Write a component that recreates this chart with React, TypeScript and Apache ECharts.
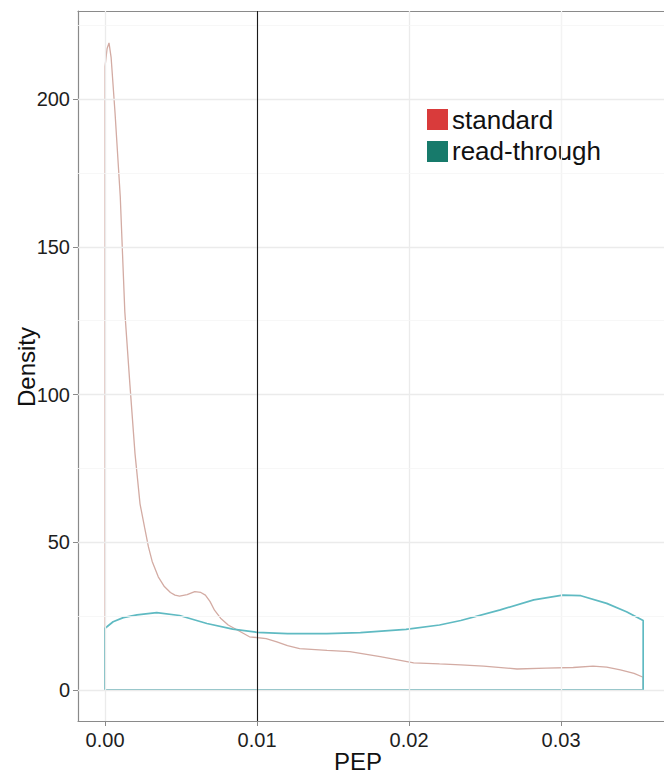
import React, { useEffect, useRef } from "react";
import * as echarts from "echarts";

const xTicks = [0, 0.01, 0.02, 0.03];
const xMinor = [0.005, 0.015, 0.025, 0.035];
const yTicks = [0, 50, 100, 150, 200];
const yMinor = [25, 75, 125, 175, 225];
const cutoff = 0.01;

const standardDensity: [number, number][] = [
  [0, 0], [0, 211], [0.00013, 217], [0.00026, 219], [0.0004, 214], [0.00066, 195],
  [0.001, 167], [0.0013, 128], [0.00164, 103], [0.00197, 80], [0.0023, 63],
  [0.0026, 55], [0.00285, 48.5], [0.0031, 43.5], [0.0035, 38.3], [0.0039, 35],
  [0.0043, 33], [0.0046, 32.1], [0.0049, 31.8],
  [0.0054, 32.3], [0.0059, 33.3], [0.0063, 33], [0.0066, 32.1], [0.0069, 30],
  [0.0072, 27], [0.0076, 24.3], [0.0081, 22], [0.0087, 20.3], [0.0095, 18], [0.0106, 17.4],
  [0.0113, 16.3], [0.012, 15], [0.0128, 14], [0.0146, 13.4], [0.0161, 13], [0.0181, 11.3],
  [0.0203, 9.2], [0.022, 8.8], [0.0234, 8.5], [0.0249, 8.1], [0.0271, 7.1],
  [0.029, 7.4], [0.0308, 7.6], [0.0321, 8.1], [0.033, 7.7], [0.0339, 6.8], [0.0348, 5.6], [0.0354, 4.3],
  [0.0354, 0], [0, 0],
];

const readThroughDensity: [number, number][] = [
  [0, 0], [0, 20.9], [0.00053, 23.1], [0.0012, 24.5], [0.0021, 25.4], [0.0034, 26.2],
  [0.0049, 25.2], [0.0067, 22.5], [0.0084, 20.6], [0.01, 19.5], [0.012, 19.1],
  [0.0146, 19.1], [0.0168, 19.4], [0.0198, 20.5], [0.022, 22], [0.0234, 23.5],
  [0.026, 27.1], [0.0282, 30.5], [0.0301, 32.1], [0.0313, 31.9], [0.033, 29.3],
  [0.0343, 26.5], [0.0354, 23.5], [0.0354, 0], [0, 0],
];

const legendNames = ["standard", "read-through"];

const FONT = "'Liberation Sans', Arial, sans-serif";

export default function App() {
  const ref = useRef<HTMLDivElement>(null);
  useEffect(() => {
    if (!ref.current) return;
    const chart = echarts.init(ref.current, null, { renderer: "svg" });
    const xMin = -0.00178;
    const xMax = 0.03677;
    const yMin = -10.5;
    const yMax = 229.8;
    const axisGray = "#8a8a8a";
    const gridLines = [
      ...xTicks.map((v) => ({ xAxis: v, lineStyle: { color: "#ebebeb", width: 1.3, type: "solid" } })),
      ...xMinor.map((v) => ({ xAxis: v, lineStyle: { color: "#f5f5f5", width: 0.8, type: "solid" } })),
      ...yTicks.map((v) => ({ yAxis: v, lineStyle: { color: "#ebebeb", width: 1.3, type: "solid" } })),
      ...yMinor.map((v) => ({ yAxis: v, lineStyle: { color: "#f5f5f5", width: 0.8, type: "solid" } })),
    ];
    chart.setOption({
      animation: false,
      backgroundColor: "#ffffff",
      grid: { left: 78, right: 0, top: 11, bottom: 54 },
      xAxis: [
        {
          type: "value",
          min: xMin,
          max: xMax,
          position: "bottom",
          axisLine: { show: true, onZero: false, lineStyle: { color: axisGray, width: 1.2 } },
          axisTick: { show: true, customValues: xTicks, length: 5, lineStyle: { color: axisGray, width: 1 } },
          axisLabel: {
            customValues: xTicks,
            formatter: (v: number) => v.toFixed(2),
            fontSize: 20,
            fontFamily: FONT,
            color: "#1e1e1e",
            margin: 9,
          },
          splitLine: { show: false },
        },
        {
          type: "value",
          min: xMin,
          max: xMax,
          position: "top",
          axisLine: { show: true, onZero: false, lineStyle: { color: axisGray, width: 1.2 } },
          axisTick: { show: false },
          axisLabel: { show: false },
          splitLine: { show: false },
        },
      ],
      yAxis: {
        type: "value",
        min: yMin,
        max: yMax,
        axisLine: { show: true, onZero: false, lineStyle: { color: axisGray, width: 1.2 } },
        axisTick: { show: true, customValues: yTicks, length: 5, lineStyle: { color: axisGray, width: 1 } },
        axisLabel: {
          customValues: yTicks,
          fontSize: 20,
          fontFamily: FONT,
          color: "#1e1e1e",
          margin: 8,
        },
        splitLine: { show: false },
      },
      series: [
        {
          name: "grid",
          type: "line",
          data: [],
          silent: true,
          z: 1,
          markLine: {
            silent: true,
            symbol: "none",
            label: { show: false },
            animation: false,
            data: gridLines,
          },
        },
        {
          name: legendNames[0],
          type: "line",
          data: standardDensity,
          showSymbol: false,
          symbol: "none",
          z: 3,
          lineStyle: { color: "#d3aba3", width: 1.3 },
        },
        {
          name: legendNames[1],
          type: "line",
          data: readThroughDensity,
          showSymbol: false,
          symbol: "none",
          z: 4,
          lineStyle: { color: "#5fbac2", width: 1.7 },
          markLine: {
            silent: true,
            symbol: "none",
            label: { show: false },
            animation: false,
            data: [{ xAxis: cutoff, lineStyle: { color: "#1a1a1a", width: 1.1, type: "solid" } }],
          },
        },
      ],
      graphic: [
        { type: "rect", shape: { x: 427, y: 109, width: 21, height: 21 }, style: { fill: "#d93b3b" } },
        {
          type: "text",
          x: 452,
          y: 120,
          style: { text: legendNames[0], font: `26px ${FONT}`, fill: "#111", verticalAlign: "middle", align: "left" },
        },
        { type: "rect", shape: { x: 427, y: 141, width: 21, height: 21 }, style: { fill: "#177a6b" } },
        {
          type: "text",
          x: 452,
          y: 151,
          style: { text: legendNames[1], font: `26px ${FONT}`, fill: "#111", verticalAlign: "middle", align: "left" },
        },
        {
          type: "text",
          x: 358,
          y: 761,
          style: { text: "PEP", font: `24px ${FONT}`, fill: "#111", verticalAlign: "middle", align: "center" },
        },
        {
          type: "text",
          x: 26,
          y: 367,
          rotation: Math.PI / 2,
          style: { text: "Density", font: `24px ${FONT}`, fill: "#111", verticalAlign: "middle", align: "center" },
        },
      ],
    });
    return () => chart.dispose();
  }, []);
  return <div ref={ref} style={{ width: 664, height: 775, position: "absolute", left: 0, top: 0 }} />;
}
